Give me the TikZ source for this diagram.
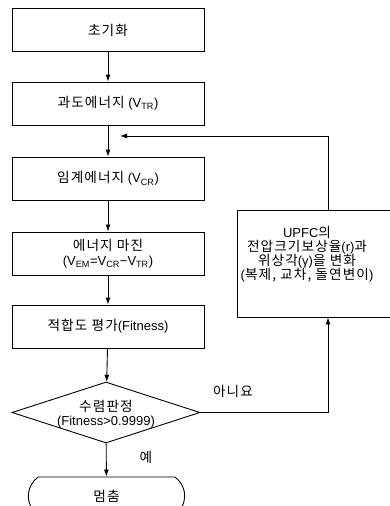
\documentclass[tikz,border=0pt]{standalone}
\usepackage{fontspec}
\setmainfont{Liberation Sans}
\newfontfamily\kr[LetterSpace=8,Scale=1.05]{Noto Sans CJK KR}
\usetikzlibrary{arrows.meta,shapes.geometric,shapes.misc}
\begin{document}
\begin{tikzpicture}[x=1pt,y=-1pt,
  font=\fontsize{13}{14}\selectfont,
  box/.style={draw,line width=0.9pt,minimum width=192pt,minimum height=43pt,inner sep=0pt,align=center},
  flow/.style={line width=0.9pt,-{Latex[length=7pt,width=5pt]}}]
\useasboundingbox (0,0) rectangle (390,506);
\node[box] (b1) at (108,30) {\kr 초기화};
\node[box] (b2) at (108,103.5) {{\kr 과도에너지} (V\textsubscript{TR})};
\node[box] (b3) at (108,178.5) {{\kr 임계에너지} (V\textsubscript{CR})};
\node[box,font=\fontsize{13}{15}\selectfont] (b4) at (108,253.5) {{\kr 에너지 마진}\\(V\textsubscript{EM}=V\textsubscript{CR}−V\textsubscript{TR})};
\node[box] (b5) at (108,326.5) {{\kr 적합도 평가}(Fitness)};
\node[diamond,draw,line width=0.9pt,minimum width=188pt,minimum height=61pt,aspect=3,inner sep=0pt] (d) at (106,412.5) {};
\node[font=\fontsize{13}{14.5}\selectfont,align=center] (dt) at (106,414) {{\kr 수렴판정}\\(Fitness>0.9999)};
\node[rounded rectangle,rounded rectangle arc length=110,draw,line width=0.9pt,minimum width=163pt,minimum height=38pt] (t) at (106.5,496) {\kr 멈춤};
\node[draw,line width=0.9pt,minimum width=182pt,minimum height=107pt] (u) at (328,263.5) {};
\node[align=center,font=\fontsize{13}{14.2}\selectfont] (ut) at (307,254) {UPFC{\kr 의}\\{\kr 전압크기보상율}(r){\kr 과}\\{\kr 위상각}(γ){\kr 을 변화}\\({\kr 복제, 교차, 돌연변이})};
\coordinate (fb) at (120,136);
\node (no) at (233,391) {\kr 아니요};
\node (yes) at (146,457) {\kr 예};
\draw[flow] (b1) -- (b2);
\draw[flow] (b2) -- (b3);
\draw[flow] (b3) -- (b4);
\draw[flow] (b4) -- (b5);
\draw[flow] (b5) -- (d);
\draw[flow] (d) -- (t);
\draw[flow] (d.east) -| (u.south);
\draw[flow] (u.north) |- (fb);
\end{tikzpicture}
\end{document}
